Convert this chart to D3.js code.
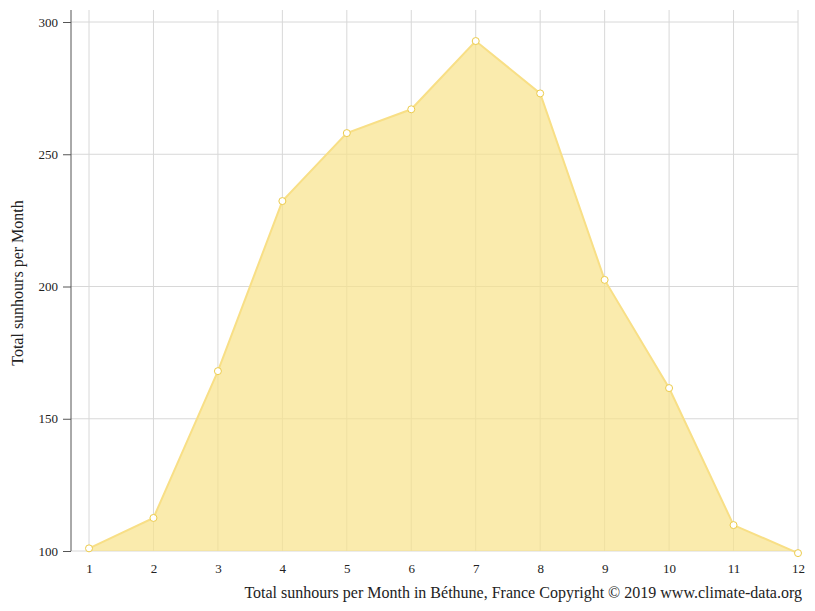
<!DOCTYPE html>
<html>
<head>
<meta charset="utf-8">
<script src="https://cdn.jsdelivr.net/npm/d3@7"></script>
<style>body{margin:0;background:#fff;} text{font-family:"Liberation Serif",serif;}</style>
</head>
<body>
<script>
var months = [1,2,3,4,5,6,7,8,9,10,11,12];
var sunhours = [101,112.5,168,232.3,258,267,292.8,273,202.5,161.6,109.8,99.2];
var yTicks = [100,150,200,250,300];

var w = 815, h = 611;
var svg = d3.select("body").append("svg").attr("width", w).attr("height", h);

var x = d3.scaleLinear().domain([1,12]).range([89,798]);
var y = d3.scaleLinear().domain([100,300]).range([551,22]);

// grid
svg.selectAll(".hg").data(yTicks).enter().append("line")
  .attr("x1", 71).attr("x2", 798)
  .attr("y1", d => y(d)).attr("y2", d => y(d))
  .attr("stroke", "#d8d8d8");
svg.selectAll(".vg").data(months).enter().append("line")
  .attr("x1", d => x(d)).attr("x2", d => x(d))
  .attr("y1", 10).attr("y2", 551)
  .attr("stroke", "#d8d8d8");

// area
var area = d3.area().x((d,i) => x(months[i])).y0(y(100)).y1(d => y(d));
svg.append("path").datum(sunhours).attr("d", area)
  .attr("fill", "#f8e38a").attr("fill-opacity", 0.7);
var line = d3.line().x((d,i) => x(months[i])).y(d => y(d));
svg.append("path").datum(sunhours).attr("d", line)
  .attr("fill", "none").attr("stroke", "#f8df86").attr("stroke-width", 2);
svg.selectAll(".pt").data(sunhours).enter().append("circle")
  .attr("cx", (d,i) => x(months[i])).attr("cy", d => y(d)).attr("r", 3.5)
  .attr("fill", "#fff").attr("stroke", "#eccb4a").attr("stroke-width", 1);

// axes
var yAxis = svg.append("g").attr("transform", "translate(71,0)")
  .call(d3.axisLeft(y).tickValues(yTicks).tickSize(8).tickPadding(5));
yAxis.select(".domain").attr("d", "M0,10V551").attr("stroke", "#555");
yAxis.selectAll("line").attr("stroke", "#555");
yAxis.selectAll("text").attr("font-size", 13).attr("fill", "#222").attr("font-family", "Liberation Serif");

var xAxis = svg.append("g").attr("transform", "translate(0,551)")
  .call(d3.axisBottom(x).tickValues(months).tickSize(0).tickPadding(13));
xAxis.select(".domain").remove();
xAxis.selectAll("text").attr("font-size", 13).attr("fill", "#222").attr("font-family", "Liberation Serif");

svg.append("text").attr("transform", "translate(23,283) rotate(-90)")
  .attr("text-anchor", "middle").attr("font-size", 16).attr("fill", "#222")
  .text("Total sunhours per Month");
svg.append("text").attr("x", 802).attr("y", 598).attr("text-anchor", "end")
  .attr("font-size", 16).attr("fill", "#222")
  .text("Total sunhours per Month in Béthune, France Copyright © 2019 www.climate-data.org");
</script>
</body>
</html>
